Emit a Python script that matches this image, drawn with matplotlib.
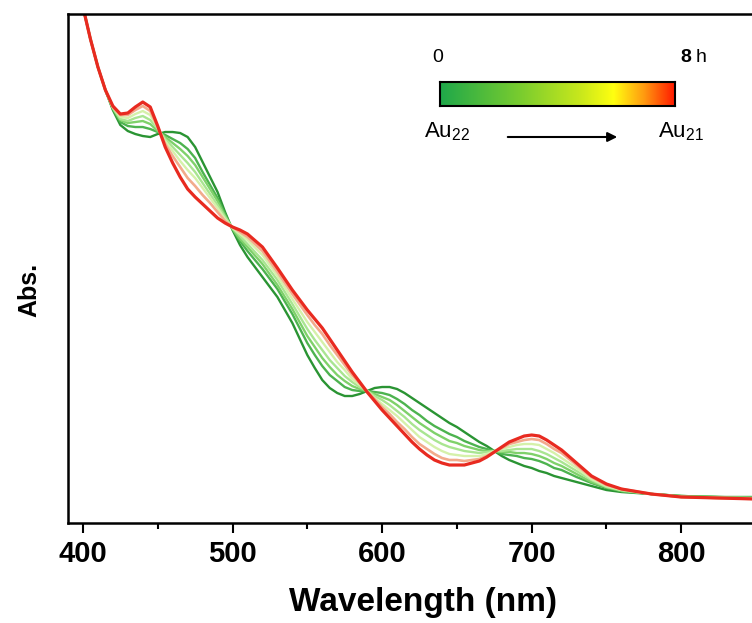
import matplotlib
matplotlib.use("Agg")
import matplotlib.pyplot as plt
from matplotlib.colors import LinearSegmentedColormap
import numpy as np

plt.rcParams['font.family'] = ['Liberation Sans', 'DejaVu Sans']
plt.rcParams['mathtext.default'] = 'regular'

# wavelength grid (nm)
wavelength = [390, 395, 400, 405, 410, 415, 420, 425, 430, 435, 440, 445, 450,
              455, 460, 465, 470, 475, 480, 485, 490, 495, 500, 505, 510,
              520, 530, 540,
              550, 555, 560, 565, 570, 575, 580, 585, 590, 595, 600, 605, 610,
              615, 620, 625, 630, 635, 640, 645, 650, 655, 660, 665, 670, 675,
              680, 685, 690, 695, 700, 705, 710, 715, 720,
              730, 740, 750, 760, 780, 800, 825, 850]

# absorbance (arb. units), 0 h -> 8 h
abs_0h = [580, 548, 516, 484, 456, 433, 413, 398, 392, 389, 387, 386, 389,
          391, 391, 390, 386, 376, 361, 346, 331, 311, 293, 278, 266,
          246, 226, 200,
          168, 155, 143, 135, 130, 127, 127, 129, 132, 135, 136, 136, 134,
          130, 125, 120, 115, 110, 105, 100, 96, 91, 86, 81, 77, 72,
          67, 63, 60, 57, 55, 52, 50, 47, 45,
          41, 37, 33, 31, 29, 27, 26, 26]
abs_1 = [580, 548, 516, 484, 456, 433, 414, 401, 397, 396, 396, 394, 391,
         388, 384, 380, 374, 365, 351, 338, 325, 309, 294, 282, 272,
         254, 234, 209,
         180, 168, 157, 148, 142, 136, 133, 132, 132, 131, 130, 128, 124,
         119, 113, 108, 102, 97, 93, 89, 86, 82, 79, 76, 74, 72,
         69, 68, 67, 65, 64, 62, 59, 55, 53,
         46, 40, 35, 32, 29, 27, 26, 25]
abs_2 = [580, 548, 516, 484, 456, 433, 415, 403, 400, 401, 402, 399, 392,
         386, 380, 374, 367, 358, 346, 334, 322, 307, 294, 284, 276,
         259, 238, 214,
         187, 176, 165, 156, 148, 142, 137, 134, 132, 129, 126, 123, 118,
         112, 106, 100, 95, 90, 86, 82, 80, 77, 75, 73, 72, 72,
         71, 71, 70, 70, 69, 67, 64, 60, 57,
         49, 41, 36, 32, 29, 27, 26, 25]
abs_3 = [580, 548, 516, 484, 456, 433, 415, 404, 402, 405, 407, 403, 394,
         384, 376, 368, 360, 351, 340, 329, 318, 306, 295, 287, 279,
         263, 243, 219,
         194, 183, 173, 163, 155, 147, 141, 136, 132, 127, 123, 118, 112,
         106, 99, 93, 88, 83, 79, 76, 74, 72, 71, 70, 71, 72,
         72, 73, 74, 74, 74, 72, 69, 65, 61,
         52, 43, 36, 33, 29, 26, 25, 25]
abs_4 = [580, 548, 516, 484, 456, 433, 416, 406, 405, 409, 412, 408, 395,
         382, 372, 362, 353, 345, 335, 325, 315, 304, 295, 289, 283,
         268, 247, 224,
         201, 191, 181, 171, 161, 153, 144, 138, 132, 125, 119, 113, 107,
         100, 93, 86, 81, 76, 72, 69, 68, 67, 67, 67, 69, 72,
         74, 76, 78, 79, 79, 78, 74, 70, 65,
         55, 44, 37, 33, 29, 26, 25, 25]
abs_5 = [580, 548, 516, 484, 456, 433, 416, 408, 408, 413, 417, 412, 396,
         379, 367, 356, 345, 337, 328, 320, 311, 302, 296, 291, 286,
         272, 251, 229,
         208, 198, 189, 178, 168, 158, 148, 140, 131, 124, 116, 109, 101,
         94, 86, 79, 74, 69, 65, 63, 63, 62, 63, 64, 67, 71,
         75, 79, 81, 83, 84, 83, 79, 74, 70,
         58, 46, 38, 34, 29, 26, 25, 24]
abs_8h = [580, 548, 516, 484, 456, 433, 417, 409, 410, 416, 421, 416, 397,
          376, 360, 346, 334, 326, 319, 312, 305, 300, 296, 293, 289,
          276, 255, 233,
          213, 204, 195, 184, 173, 162, 151, 141, 131, 122, 113, 105, 97,
          89, 81, 74, 68, 63, 60, 58, 58, 58, 60, 62, 66, 71,
          76, 81, 84, 87, 88, 87, 83, 78, 73,
          60, 47, 39, 34, 29, 26, 25, 24]

spectra = [abs_0h, abs_1, abs_2, abs_3, abs_4, abs_5, abs_8h]
line_colors = ['#2a9433', '#4db34f', '#7fd16a', '#a9e591', '#d5f1aa',
               '#f2ab8c', '#e82a20']
line_widths = [1.7, 1.7, 1.7, 1.7, 1.7, 1.9, 2.3]

xticks = [400, 500, 600, 700, 800]

fig = plt.figure(figsize=(7.52, 6.23), dpi=100)
ax = fig.add_axes([0.0904, 0.1605, 0.915, 0.817])

for y, c, lw in zip(spectra, line_colors, line_widths):
    ax.plot(wavelength, y, color=c, lw=lw, solid_joinstyle='round',
            solid_capstyle='round')

ax.set_xlim(390, 850)
ax.set_ylim(0, 509)
ax.set_xticks(xticks)
ax.set_xticks([450, 550, 650, 750, 850], minor=True)
ax.set_yticks([])
ax.tick_params(axis='x', which='major', direction='out', length=7, width=1.5,
               pad=5, labelsize=21)
ax.tick_params(axis='x', which='minor', direction='out', length=4, width=1.5)
for lab in ax.get_xticklabels():
    lab.set_fontweight('bold')
for sp in ax.spines.values():
    sp.set_linewidth(1.8)

ax.set_xlabel('Wavelength (nm)', fontsize=24, fontweight='bold', labelpad=14)
ax.xaxis.label.set_x(0.516)
ax.set_ylabel('Abs.', fontsize=18, fontweight='bold')
ax.yaxis.set_label_coords(-0.038, 0.458)

# time colour bar inset
cmap = LinearSegmentedColormap.from_list(
    'time', [(0.0, '#1fa84a'), (0.35, '#7ccd2e'), (0.6, '#c9e81c'),
             (0.74, '#ffff10'), (0.87, '#ff9a10'), (1.0, '#ff1a00')])
cax = fig.add_axes([440 / 752, 1 - 106 / 623, 235 / 752, 24 / 623])
cax.imshow(np.linspace(0, 1, 256)[None, :], aspect='auto', cmap=cmap)
cax.set_xticks([])
cax.set_yticks([])
for sp in cax.spines.values():
    sp.set_linewidth(1.5)

fig.text(438 / 752, 1 - 58 / 623, '0', fontsize=14, ha='center', va='center')
fig.text(686 / 752, 1 - 58 / 623, '8', fontsize=14, fontweight='bold',
         ha='center', va='center')
fig.text(701 / 752, 1 - 58 / 623, 'h', fontsize=14, ha='center', va='center')
fig.text(424 / 752, 1 - 132 / 623, 'Au$_{22}$', fontsize=16, ha='left',
         va='center')
fig.text(704 / 752, 1 - 132 / 623, 'Au$_{21}$', fontsize=16, ha='right',
         va='center')
ax.annotate('', xy=(620 / 752, 1 - 137 / 623), xytext=(505 / 752, 1 - 137 / 623),
            xycoords='figure fraction', textcoords='figure fraction',
            arrowprops=dict(arrowstyle='-|>', color='black', lw=1.5,
                            mutation_scale=14))

fig.savefig('out.png', dpi=100)
